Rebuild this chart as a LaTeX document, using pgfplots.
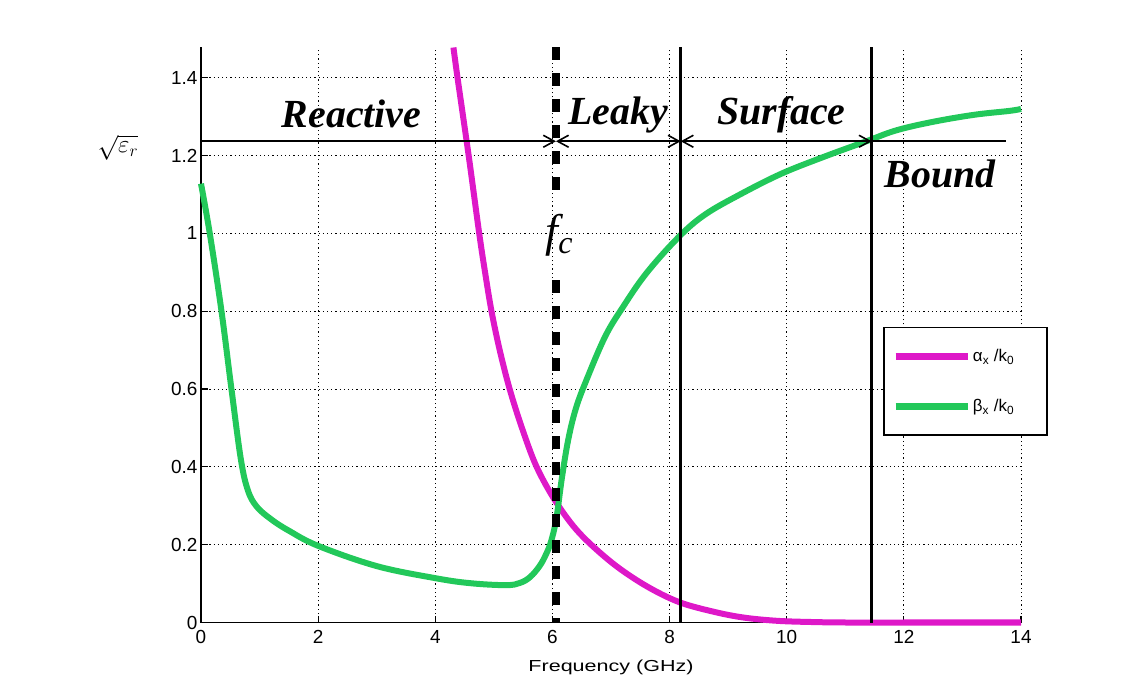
\documentclass[border=0pt]{standalone}
\usepackage{fontspec}
\setmainfont{Liberation Sans}
\newfontfamily\tnr{Liberation Serif}
\usepackage{graphicx}
\usepackage{pgfplots}
\pgfplotsset{compat=1.18}
\usetikzlibrary{arrows.meta}
\definecolor{alphac}{RGB}{222,24,200}
\definecolor{betac}{RGB}{34,200,90}
\begin{document}
\begin{tikzpicture}
\path[use as bounding box] (0,0) rectangle (1135bp,680bp);
\begin{axis}[
  at={(201bp,57.5bp)}, anchor=south west,
  scale only axis, width=820bp, height=575bp,
  xmin=0, xmax=14, ymin=0, ymax=1.478,
  axis x line*=bottom, axis y line*=left,
  axis line style={line width=1.6bp},
  xtick={0,2,4,6,8,10,12,14},
  ytick={0,0.2,0.4,0.6,0.8,1,1.2,1.4},
  tick align=inside, major tick length=7bp,
  tick style={line width=1.2bp, black},
  grid=major,
  major grid style={line width=1bp, black, dash pattern=on 1.2bp off 3bp},
  ticklabel style={font=\fontsize{19}{21}\selectfont},
  xticklabel style={yshift=-4bp},
  /pgf/number format/assume math mode=true,
  xlabel={\scalebox{1.35}[1]{Frequency (GHz)}},
  xlabel style={font=\fontsize{16}{18}\selectfont, at={(axis description cs:0.5,0)}, anchor=center, yshift=-45bp},
  clip=false,
  legend style={at={(axis description cs:0.832,0.514)}, anchor=north west,
    draw=black, line width=1.5bp, fill=white,
    font=\fontsize{17}{19}\selectfont,
    inner xsep=8bp, inner ysep=20bp, row sep=32bp},
  legend cell align=left,
  legend image code/.code={\draw[#1, line width=7bp] (0bp,0bp) -- (72bp,0bp);},
]
\addplot[alphac, line width=6bp, smooth, tension=0.55] coordinates {
(4.31,1.478) (4.38,1.40) (4.57,1.20) (4.75,1.00) (4.85,0.90) (4.96,0.80)
(5.10,0.70) (5.27,0.60) (5.48,0.50) (5.73,0.40) (6.06,0.31) (6.46,0.23)
(7.03,0.152) (7.60,0.094) (8.17,0.052) (8.8,0.026) (9.3,0.012) (9.87,0.004)
(10.5,0.001) (11,0) (12,0) (13,0) (14,0)
};
\addlegendentry{\makebox[64bp][l]{α\textsubscript{x} /k\textsubscript{0}}}
\addplot[betac, line width=6bp, smooth, tension=0.6] coordinates {
(0,1.128) (0.15,1.00) (0.35,0.80) (0.52,0.60) (0.68,0.42) (0.80,0.34)
(0.95,0.298) (1.2,0.265) (1.5,0.236) (2.0,0.197) (3.0,0.145) (4.0,0.114)
(4.6,0.101) (5.21,0.096) (5.45,0.102) (5.62,0.117) (5.78,0.145) (5.89,0.175)
(5.98,0.21) (6.07,0.27) (6.16,0.37) (6.27,0.47) (6.40,0.55) (6.58,0.623)
(6.90,0.735) (7.20,0.81) (7.60,0.897) (8.15,0.99) (8.6,1.048) (9.2,1.10)
(9.9,1.153) (10.6,1.195) (11.36,1.237) (11.87,1.265) (12.5,1.287) (13.2,1.305)
(13.8,1.315) (14,1.32)
};
\addlegendentry{\makebox[64bp][l]{β\textsubscript{x} /k\textsubscript{0}}}
% region boundaries
\draw[line width=8bp, dash pattern=on 13bp off 13bp] (axis cs:6.06,1.478) -- (axis cs:6.06,1.10);
\draw[line width=8bp, dash pattern=on 13bp off 13bp] (axis cs:6.06,0.88) -- (axis cs:6.06,0);
\draw[line width=2.5bp] (axis cs:8.19,0) -- (axis cs:8.19,1.478);
\draw[line width=2.5bp] (axis cs:11.45,0) -- (axis cs:11.45,1.478);
% sqrt(eps_r) level
\draw[line width=1.6bp, -{Straight Barb[length=11bp,width=12bp]}] (axis cs:0,1.237) -- (axis cs:6.06,1.237);
\draw[line width=1.6bp, {Straight Barb[length=11bp,width=12bp]}-{Straight Barb[length=11bp,width=12bp]}] (axis cs:6.06,1.237) -- (axis cs:8.19,1.237);
\draw[line width=1.6bp, {Straight Barb[length=11bp,width=12bp]}-{Straight Barb[length=11bp,width=12bp]}] (axis cs:8.19,1.237) -- (axis cs:11.45,1.237);
\draw[line width=1.6bp] (axis cs:11.45,1.237) -- (axis cs:13.75,1.237);
\node[font=\fontsize{25}{27}\selectfont] at (axis cs:-1.42,1.22) {$\sqrt{\varepsilon_r}$};
% labels
\node[font=\tnr\bfseries\itshape\fontsize{40}{42}\selectfont, anchor=base] at (axis cs:2.57,1.272) {Reactive};
\node[font=\tnr\bfseries\itshape\fontsize{40}{42}\selectfont, anchor=base] at (axis cs:7.12,1.28) {Leaky};
\node[font=\tnr\bfseries\itshape\fontsize{40}{42}\selectfont, anchor=base] at (axis cs:9.91,1.28) {Surface};
\node[font=\tnr\bfseries\itshape\fontsize{40}{42}\selectfont, anchor=base] at (axis cs:12.62,1.118) {Bound};
\node[font=\tnr\itshape\fontsize{46}{48}\selectfont] at (axis cs:6.12,0.995) {f\textsubscript{c}};
\end{axis}
\end{tikzpicture}
\end{document}
